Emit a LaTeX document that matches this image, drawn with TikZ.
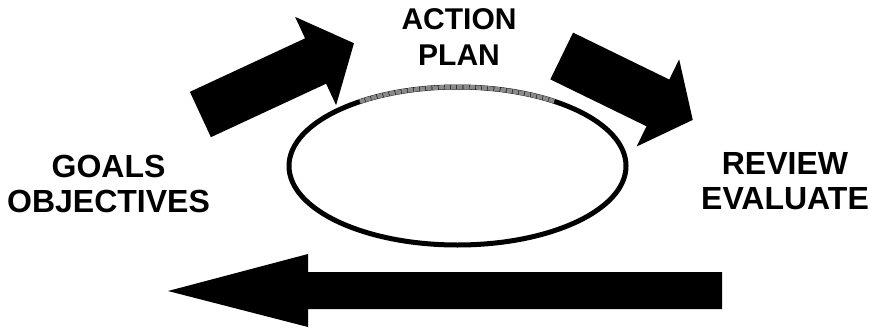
\documentclass[tikz,border=0pt]{standalone}
\usepackage{fontspec}
\setmainfont{Liberation Sans}
\usepackage{xcolor}
\usepackage{tikz}
\usetikzlibrary{calc}
\definecolor{planarc}{HTML}{8a8a8a}

\begin{document}
\begin{tikzpicture}[x=1pt, y=1pt,
  label/.style={font=\bfseries\fontsize{32}{35}\selectfont, align=center, anchor=north, inner sep=0pt},
  bigarrow/.style={fill=black}]
\useasboundingbox (0,0) rectangle (869,-329);
% cycle ellipse
\coordinate (c) at (457.5,-166);
\draw[line width=5pt] (c) ellipse [x radius=168.5, y radius=79];
\draw[line width=4.4pt, planarc, dash pattern=on 5.5pt off 0.7pt]
  (c) ++(55:168.5 and 79) arc [start angle=55, end angle=125.4, x radius=168.5, y radius=79];
% goals -> plan
\begin{scope}[shift={(200.4,-114.5)}, rotate=24.9]
  \fill[bigarrow] (0,-25) -- (127,-25) -- (127,-48.7) -- (169.3,0) -- (127,48.7) -- (127,25) -- (0,25) -- cycle;
\end{scope}
% plan -> review
\begin{scope}[shift={(561.7,-56)}, rotate=-26]
  \fill[bigarrow] (0,-26) -- (107,-26) -- (107,-48.5) -- (145.8,0) -- (107,48.5) -- (107,26) -- (0,26) -- cycle;
\end{scope}
% review back to goals
\fill[bigarrow] (722,-272) -- (308,-272) -- (308,-254) -- (168,-291) -- (308,-327) -- (308,-309) -- (722,-309) -- cycle;
% labels
\node[label, font=\bfseries\fontsize{30}{36}\selectfont] (plan) at (459,-8) {ACTION\\PLAN};
\node[label] (goals) at (108.5,-154.5) {GOALS\\OBJECTIVES};
\node[label] (review) at (785,-152.5) {REVIEW\\EVALUATE};
\end{tikzpicture}
\end{document}
